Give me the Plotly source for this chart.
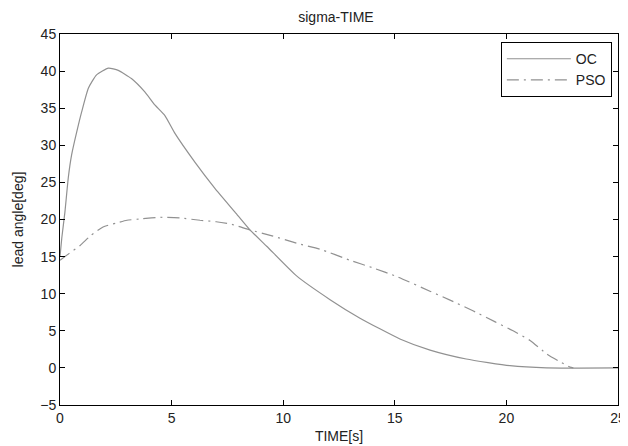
import plotly.graph_objs as go

# OC curve
oc_t = [0, 0.08, 0.22, 0.37, 0.52, 0.75, 0.97, 1.27, 1.64, 2.17, 2.61, 3.2, 3.8, 4.26, 4.7, 5.15, 6.05, 6.94,
        7.84, 8.51, 9.26, 10.6, 12.1, 13.44, 15.23, 16.58, 18.2, 20.16, 21.8, 25.0]
oc_y = [15.0, 17.5, 21.0, 25.6, 28.7, 31.8, 34.5, 37.7, 39.5, 40.4, 40.1, 39.0, 37.2, 35.4, 34.0, 31.6, 27.7, 24.2,
        21.0, 18.6, 16.4, 12.4, 9.2, 6.7, 3.9, 2.4, 1.2, 0.3, 0.0, 0.0]

# PSO curve
pso_t = [0, 0.4, 0.9, 1.4, 1.93, 2.5, 3.0, 3.7, 4.48, 5.4, 6.27, 7.0, 7.62, 8.51, 9.5, 10.6, 11.65, 13.0, 14.0,
         15.1, 16.6, 17.5, 18.5, 19.5, 20.3, 21.06, 21.8, 22.3, 22.85, 23.0]
pso_y = [14.5, 15.4, 16.5, 17.9, 19.0, 19.5, 19.9, 20.1, 20.3, 20.2, 19.9, 19.7, 19.4, 18.6, 17.8, 16.8, 16.0, 14.5, 13.5,
         12.3, 10.3, 9.1, 7.7, 6.2, 5.0, 3.7, 1.9, 1.0, 0.1, 0.0]

fig = go.Figure([
    go.Scatter(
        name='OC',
        x=oc_t,
        y=oc_y,
        mode='lines',
        line=dict(color='#919191', width=1.2, shape='spline', smoothing=0.5),
    ),
    go.Scatter(
        name='PSO',
        x=pso_t,
        y=pso_y,
        mode='lines',
        line=dict(color='#919191', width=1.2, dash='12px,5px,2px,5px', shape='spline', smoothing=0.5),
    ),
])

axis_common = dict(
    showline=True,
    linecolor='black',
    linewidth=1,
    mirror='ticks',
    ticks='inside',
    ticklen=5,
    tickcolor='black',
    showgrid=False,
    zeroline=False,
    automargin=False,
    tickfont=dict(size=14, color='#222'),
)

# page body has an 8px margin, so the figure is sized to fit the window
fig.update_layout(
    width=620,
    height=438,
    paper_bgcolor='white',
    plot_bgcolor='white',
    font=dict(family='Liberation Sans, Arial, sans-serif', color='#222'),
    margin=dict(l=52, r=10, t=26, b=41),
    title=dict(text='sigma-TIME', x=0.529, xanchor='center', y=0.979, yanchor='middle', font=dict(size=14)),
    xaxis=dict(range=[0, 25], tickvals=[0, 5, 10, 15, 20, 25],
               title=dict(text='TIME[s]', font=dict(size=14), standoff=6), **axis_common),
    yaxis=dict(range=[-5, 45], tickvals=[-5, 0, 5, 10, 15, 20, 25, 30, 35, 40, 45],
               title=dict(text='lead angle[deg]', font=dict(size=14), standoff=13), **axis_common),
    legend=dict(x=0.989, xanchor='right', y=0.978, yanchor='top', bordercolor='black', borderwidth=1,
                bgcolor='white', font=dict(size=14), tracegroupgap=0, itemwidth=64),
    showlegend=True,
)

fig.write_html("out.html")
